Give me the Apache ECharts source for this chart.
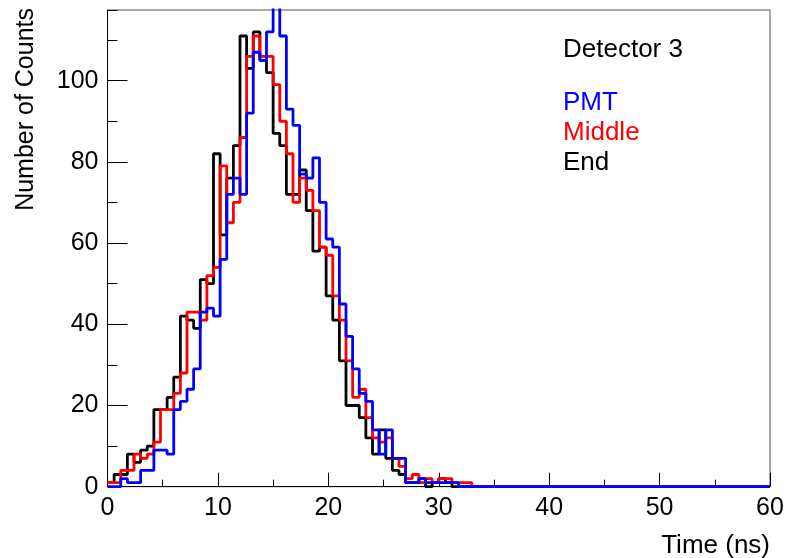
<!DOCTYPE html>
<html>
<head>
<meta charset="utf-8">
<script src="https://cdn.jsdelivr.net/npm/echarts@6/dist/echarts.min.js"></script>
<style>
html, body { margin: 0; padding: 0; background: #fff; }
#main { width: 787px; height: 558px; }
</style>
</head>
<body>
<div id="main"></div>
<script>
// histograms: 0.6 ns bins starting at 0, axis runs to 60 ns
var binWidth = 0.6;
var xMax = 60;
var yMax = 117.4;

// counts per bin (bins after the last entry are empty)
var pmtCounts = [0, 0, 2, 1, 1, 4, 4, 9, 9, 8,
  19, 21, 24, 29, 43, 44, 42, 56, 72, 76,
  72, 92, 107, 105, 112, 121, 111, 93, 89, 77,
  76, 81, 70, 61, 59, 45, 37, 29, 23, 21,
  14, 8, 14, 7, 7, 1, 1, 2, 1, 1,
  1, 1, 1, 0, 0];
var middleCounts = [1, 1, 4, 4, 8, 7, 8, 11, 19, 19,
  23, 28, 43, 43, 41, 52, 54, 79, 65, 70,
  86, 106, 111, 106, 106, 99, 90, 82, 70, 76,
  73, 68, 59, 57, 47, 41, 31, 22, 24, 17,
  12, 11, 12, 7, 5, 2, 3, 1, 2, 1,
  2, 2, 1, 1, 1];
var endCounts = [1, 3, 3, 8, 6, 9, 10, 19, 19, 22,
  27, 42, 41, 39, 51, 50, 82, 62, 76, 84,
  111, 103, 112, 105, 102, 87, 84, 72, 72, 78,
  68, 58, 59, 47, 41, 31, 20, 20, 17, 12,
  8, 14, 7, 4, 3, 1, 1, 2, 0, 1,
  2, 1, 0, 0, 0];

var seriesNames = ['PMT', 'Middle', 'End'];
var seriesColors = ['#0000ff', '#ff0000', '#000000'];
var plotTitle = 'Detector 3';
var xTitle = 'Time (ns)';
var yTitle = 'Number of Counts';

var font = '"Liberation Sans", Arial, sans-serif';

function histPoints(counts) {
  var pts = [];
  for (var i = 0; i < counts.length; i++) {
    pts.push([i * binWidth, counts[i]]);
  }
  pts.push([counts.length * binWidth, 0]);
  pts.push([xMax, 0]);
  return pts;
}

var allCounts = [pmtCounts, middleCounts, endCounts];
var series = [];
// draw End first, PMT last (on top)
for (var k = allCounts.length - 1; k >= 0; k--) {
  series.push({
    name: seriesNames[k],
    type: 'line',
    step: 'end',
    symbol: 'none',
    clip: true,
    data: histPoints(allCounts[k]),
    lineStyle: { color: seriesColors[k], width: 2.8 },
    z: 10 + (allCounts.length - k)
  });
}

var myChart = echarts.init(document.getElementById('main'), null, { renderer: 'canvas' });

var legendTexts = [{
  type: 'text', left: 563, top: 37,
  style: { text: plotTitle, fill: '#000', font: '26px ' + font }
}];
for (var j = 0; j < seriesNames.length; j++) {
  legendTexts.push({
    type: 'text', left: 563, top: 90 + j * 30,
    style: { text: seriesNames[j], fill: seriesColors[j], font: '26px ' + font }
  });
}

myChart.setOption({
  animation: false,
  backgroundColor: '#fff',
  grid: {
    left: 107.5, right: 17, top: 10, bottom: 71.3,
    show: true, borderColor: '#555', borderWidth: 1
  },
  xAxis: {
    type: 'value', min: 0, max: xMax, interval: 10,
    axisLine: { show: true, lineStyle: { color: '#000', width: 1 } },
    axisTick: { show: true, inside: true, length: 14, lineStyle: { color: '#000' } },
    minorTick: { show: true, splitNumber: 2, length: 7, lineStyle: { color: '#000' } },
    splitLine: { show: false },
    axisLabel: { color: '#000', fontSize: 25, fontFamily: font, margin: 9 }
  },
  yAxis: [{
    type: 'value', min: 0, max: yMax, interval: 20,
    axisLine: { show: true, lineStyle: { color: '#000', width: 1 } },
    axisTick: { show: true, inside: true, length: 20, lineStyle: { color: '#000' } },
    splitLine: { show: false },
    axisLabel: { color: '#000', fontSize: 25, fontFamily: font, margin: 9, showMaxLabel: false }
  }, {
    // minor ticks every 10 counts
    type: 'value', min: 0, max: yMax, interval: 10, position: 'left',
    axisLine: { show: false },
    axisTick: { show: true, inside: true, length: 10, lineStyle: { color: '#000' } },
    splitLine: { show: false },
    axisLabel: { show: false }
  }],
  graphic: legendTexts.concat([{
    type: 'text', right: 17, top: 533,
    style: { text: xTitle, fill: '#000', font: '26px ' + font }
  }, {
    type: 'text', x: 14, y: 8, rotation: Math.PI / 2,
    style: { text: yTitle, fill: '#000', font: '25px ' + font, align: 'right', verticalAlign: 'top' }
  }]),
  series: series
});
</script>
</body>
</html>
